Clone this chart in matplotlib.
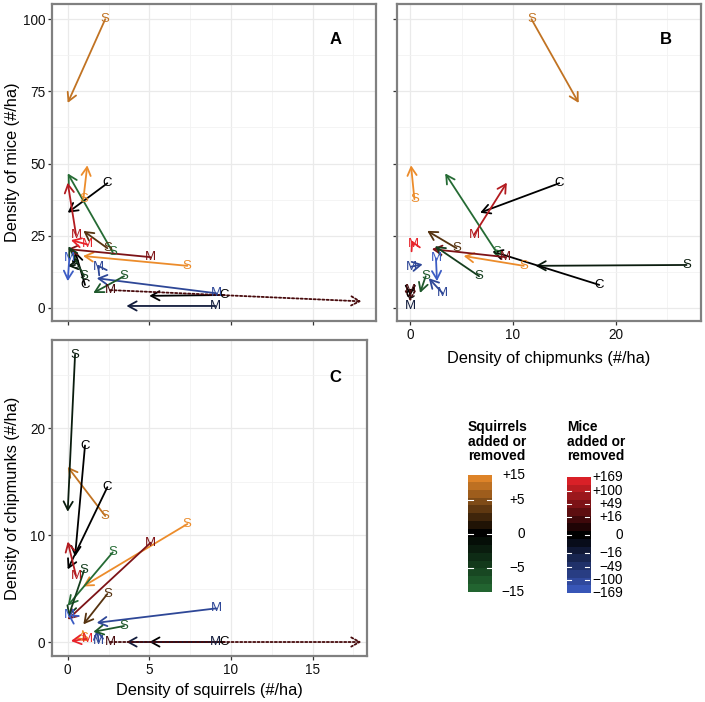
import numpy as np
import matplotlib
matplotlib.use('Agg')
import matplotlib.pyplot as plt
from matplotlib.colors import LinearSegmentedColormap
from matplotlib.ticker import MultipleLocator

plt.rcParams['font.family'] = ['Liberation Sans', 'DejaVu Sans']

# ---------------- data (one entry per plot/arrow) ----------------
labels = ['S', 'S', 'C', 'C', 'C', 'M', 'M', 'S', 'M', 'S',
          'S', 'M', 'S', 'M', 'M', 'M', 'S', 'S', 'M']
# start densities
sq_start = [2.3, 0.45, 1.06, 2.43, 9.6, 9.05, 9.1, 7.33, 5.08, 2.76,
            0.96, 0.51, 2.43, 1.2, 0.1, 1.9, 3.45, 1.0, 2.6]
ch_start = [11.8, 26.9, 18.4, 14.5, 0.0, 0.0, 3.15, 11.05, 9.3, 8.4,
            0.4, 6.2, 4.5, 0.3, 2.5, 0.07, 1.5, 6.7, 0.0]
mi_start = [100.0, 14.9, 8.0, 43.2, 4.5, 0.7, 5.1, 14.6, 17.6, 19.3,
            37.7, 25.3, 20.7, 22.0, 17.2, 14.3, 11.0, 11.0, 6.2]
# end densities
sq_end = [0.0, 0.0, 0.45, 0.0, 5.0, 3.6, 1.78, 0.94, 0.0, 0.0,
          1.2, 0.0, 0.96, 0.2, 0.0, 1.8, 1.57, 0.05, 18.0]
ch_end = [16.4, 12.2, 8.0, 6.8, 0.0, 0.0, 1.8, 5.2, 2.1, 3.4,
          0.07, 9.4, 1.65, 0.1, 2.6, 1.2, 0.95, 2.4, 0.0]
mi_end = [71.0, 14.6, 19.6, 33.0, 4.2, 0.7, 10.3, 18.0, 20.4, 46.6,
          49.4, 43.4, 26.7, 23.5, 9.3, 15.1, 5.2, 21.4, 2.3]
# number of squirrels (S) or mice (M) added (+) / removed (-)
change = [10, -1, 0, 0, 0, -16, -100, 15, 49, -15,
          15, 100, 2, 169, -169, -100, -10, -5, 16]
dotted = [False] * 18 + [True]

sq_ticks = [15, 5, 0, -5, -15]
sq_ticklabels = ['+15', '+5', '0', '\u22125', '\u221215']
mi_ticks = [169, 100, 49, 16, 0, -16, -49, -100, -169]
mi_ticklabels = ['+169', '+100', '+49', '+16', '0', '\u221216', '\u221249', '\u2212100', '\u2212169']

# ---------------- colour scales ----------------
sq_cmap = LinearSegmentedColormap.from_list('sq', ['#256B34', '#000000', '#EC8C2B'])
mi_cmap = LinearSegmentedColormap.from_list('mi', ['#3C5CC4', '#000000', '#E8232A'])
SQ_MAX = np.sqrt(15.0)
MI_MAX = np.sqrt(169.0)


def ssqrt(v):
    return np.sign(v) * np.sqrt(np.abs(v))


def arrow_colour(lab, v):
    if lab == 'S':
        return sq_cmap(0.5 + 0.5 * ssqrt(v) / SQ_MAX)
    if lab == 'M':
        return mi_cmap(0.5 + 0.5 * ssqrt(v) / MI_MAX)
    return 'black'


colours = [arrow_colour(l, v) for l, v in zip(labels, change)]

W, H = 705, 702
fig = plt.figure(figsize=(W / 100, H / 100), dpi=100)


def add_axes_px(l, t, r, b):
    return fig.add_axes([l / W, (H - b) / H, (r - l) / W, (b - t) / H])


def style(ax, xmaj, xmin, ymaj, ymin, xlabels=True, ylabels=True):
    ax.set_facecolor('white')
    ax.xaxis.set_major_locator(MultipleLocator(xmaj))
    ax.xaxis.set_minor_locator(MultipleLocator(xmin))
    ax.yaxis.set_major_locator(MultipleLocator(ymaj))
    ax.yaxis.set_minor_locator(MultipleLocator(ymin))
    ax.grid(which='major', color='#EAEAEA', lw=0.9, zorder=0)
    ax.grid(which='minor', color='#F2F2F2', lw=0.6, zorder=0)
    ax.set_axisbelow(True)
    for s in ax.spines.values():
        s.set_color('#808080')
        s.set_linewidth(1.6)
    ax.tick_params(which='major', direction='out', length=3.2, width=0.9,
                   color='#333333', labelsize=9.8, pad=2.0, labelcolor='#111111')
    ax.tick_params(which='minor', length=0)
    if not xlabels:
        ax.tick_params(axis='x', labelbottom=False)
    if not ylabels:
        ax.tick_params(axis='y', labelleft=False)


def draw_arrows(ax, xs0, ys0, xs1, ys1):
    for i in range(len(labels)):
        ls = (0, (1.2, 1.2)) if dotted[i] else '-'
        ax.annotate('', xy=(xs1[i], ys1[i]), xytext=(xs0[i], ys0[i]),
                    arrowprops=dict(arrowstyle='->,head_length=0.6,head_width=0.33',
                                    color=colours[i], lw=1.3, linestyle=ls,
                                    shrinkA=0, shrinkB=0, mutation_scale=10),
                    zorder=3)
    for i in range(len(labels)):
        ax.text(xs0[i], ys0[i], labels[i], color=colours[i], fontsize=9.5,
                ha='center', va='center', zorder=4)


# Panel A: squirrels vs mice
axA = add_axes_px(52.3, 4, 376, 320.7)
axA.set_xlim(-0.944, 18.89)
axA.set_ylim(-4.40, 105.26)
style(axA, 5, 2.5, 25, 12.5, xlabels=False)
draw_arrows(axA, sq_start, mi_start, sq_end, mi_end)
fig.text(336 / W, 1 - 40 / H, 'A', fontsize=12, fontweight='bold', ha='center', va='center')

# Panel B: chipmunks vs mice
axB = add_axes_px(396.7, 4, 700.7, 320.7)
axB.set_xlim(-1.324, 28.28)
axB.set_ylim(-4.40, 105.26)
style(axB, 10, 5, 25, 12.5, ylabels=False)
draw_arrows(axB, ch_start, mi_start, ch_end, mi_end)
fig.text(666 / W, 1 - 40 / H, 'B', fontsize=12, fontweight='bold', ha='center', va='center')

# Panel C: squirrels vs chipmunks
axC = add_axes_px(52.3, 340, 366.7, 656)
axC.set_xlim(-0.944, 18.32)
axC.set_ylim(-1.31, 28.28)
style(axC, 5, 2.5, 10, 5)
draw_arrows(axC, sq_start, ch_start, sq_end, ch_end)
fig.text(335.5 / W, 1 - 378 / H, 'C', fontsize=12, fontweight='bold', ha='center', va='center')

# axis titles
fig.text(12.5 / W, 1 - 162 / H, 'Density of mice (#/ha)', rotation=90, fontsize=11.8,
         ha='center', va='center')
fig.text(12.5 / W, 1 - 498 / H, 'Density of chipmunks (#/ha)', rotation=90, fontsize=11.8,
         ha='center', va='center')
fig.text(548.7 / W, 1 - 358 / H, 'Density of chipmunks (#/ha)', fontsize=11.8,
         ha='center', va='center')
fig.text(209.5 / W, 1 - 690 / H, 'Density of squirrels (#/ha)', fontsize=11.8,
         ha='center', va='center')


# ---------------- legends ----------------
def colourbar(l, t, r, b, vmax, cmap, ticks, ticklabels, label_right, nbin=15):
    ax = add_axes_px(l, t, r, b)
    edges = np.linspace(-1, 1, nbin + 1)
    centres = 0.5 * (edges[:-1] + edges[1:])
    img = cmap(0.5 + 0.5 * centres)[:, None, :]
    ax.imshow(img, origin='lower', extent=(0, 1, -1, 1), aspect='auto',
              interpolation='nearest')
    ax.set_xlim(0, 1)
    ax.set_ylim(-1, 1)
    ax.axis('off')
    for v, lab in zip(ticks, ticklabels):
        p = ssqrt(v) / vmax
        if abs(p) < 0.99:
            ax.plot([0, 0.2], [p, p], color='white', lw=0.8)
            ax.plot([0.8, 1], [p, p], color='white', lw=0.8)
        ypx = b - (p + 1) / 2 * (b - t)
        fig.text(label_right / W, 1 - ypx / H, lab, fontsize=9.8,
                 ha='right', va='center')


colourbar(468.3, 475, 491.7, 592.3, SQ_MAX, sq_cmap, sq_ticks, sq_ticklabels, 525)
colourbar(566.7, 477.3, 590, 593.3, MI_MAX, mi_cmap, mi_ticks, mi_ticklabels, 622.7)
fig.text(468 / W, 1 - 420 / H, 'Squirrels\nadded or\nremoved', fontsize=9.9,
         fontweight='bold', ha='left', va='top', linespacing=1.05)
fig.text(566.7 / W, 1 - 420 / H, 'Mice\nadded or\nremoved', fontsize=9.9,
         fontweight='bold', ha='left', va='top', linespacing=1.05)

fig.savefig('out.png', dpi=100, facecolor='white')
